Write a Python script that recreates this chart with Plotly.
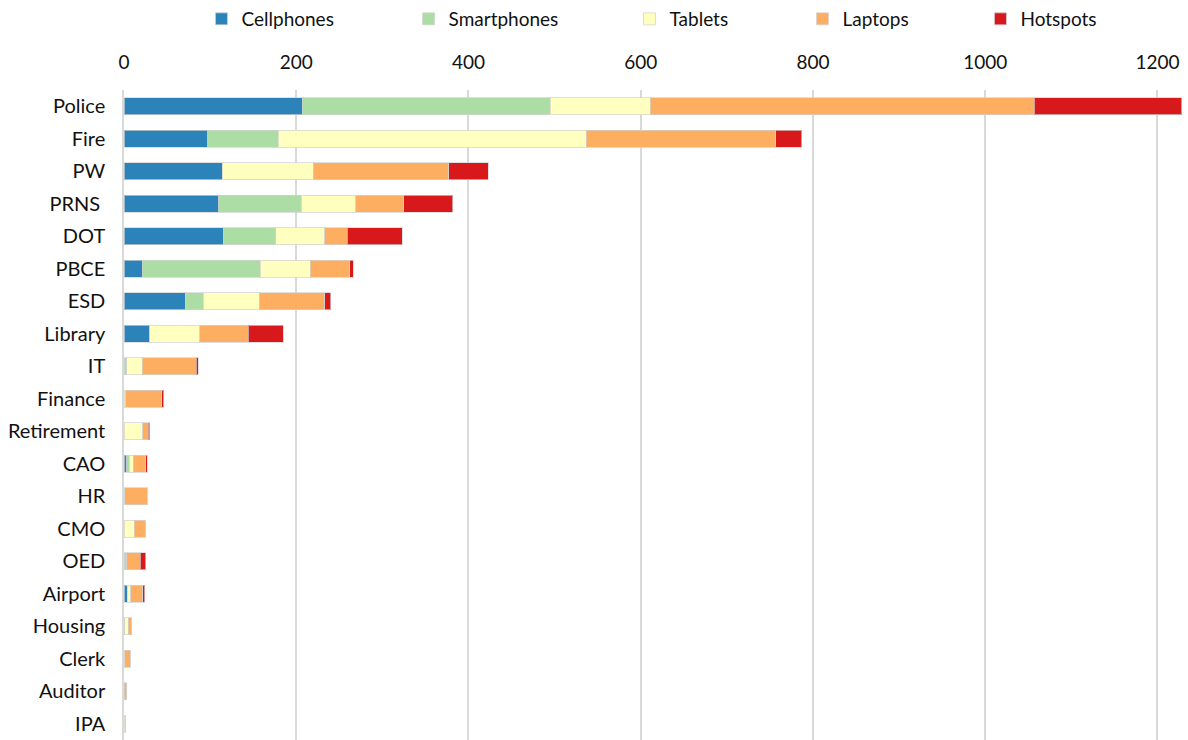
import plotly.graph_objects as go

categories = ["Police", "Fire", "PW", "PRNS\u00a0", "DOT", "PBCE", "ESD", "Library", "IT",
              "Finance", "Retirement", "CAO", "HR", "CMO", "OED", "Airport", "Housing",
              "Clerk", "Auditor", "IPA"]
cellphones = [207, 97, 114, 110, 115, 21, 71, 30, 0, 0, 0, 3, 0, 0, 0, 4, 0, 0, 0, 0]
smartphones = [288, 82, 0, 96, 61, 137, 21, 0, 3, 0, 0, 3, 0, 0, 3, 0, 1, 0, 0, 0]
tablets = [116, 358, 106, 63, 57, 58, 65, 58, 18, 2, 22, 5, 1, 12, 0, 4, 4, 1, 0, 2]
laptops = [446, 220, 157, 56, 26, 46, 76, 56, 63, 42, 6, 14, 26, 13, 16, 14, 4, 6, 3, 0]
hotspots = [171, 30, 46, 57, 64, 4, 7, 41, 2, 2, 2, 2, 0, 0, 6, 2, 0, 0, 0, 0]

series = [
    ("Cellphones", cellphones, "#2c83ba"),
    ("Smartphones", smartphones, "#abdda4"),
    ("Tablets", tablets, "#ffffbf"),
    ("Laptops", laptops, "#fdae61"),
    ("Hotspots", hotspots, "#d7191c"),
]
legend_x = [0.1696, 0.3439, 0.5299, 0.6755, 0.8253]

FONT = "Lato"
fig = go.Figure()
for i, (name, vals, color) in enumerate(series):
    lg = f"legend{i+2}"
    fig.add_trace(go.Bar(
        y=categories, x=vals, name=name, orientation="h",
        marker=dict(color=color, line=dict(color="rgba(210,210,210,0.7)", width=1)),
        legend=lg, showlegend=True,
    ))

layout_legends = {}
for i, lx in enumerate(legend_x):
    key = f"legend{i+2}"
    layout_legends[key] = dict(
        x=lx, y=1.0, xref="container", yref="container", xanchor="left", yanchor="top",
        orientation="h", bgcolor="rgba(0,0,0,0)", font=dict(family=FONT, size=19, color="#111"),
        itemwidth=30,
    )

fig.update_layout(
    barmode="stack",
    bargap=0.49,
    width=1188, height=740,
    margin=dict(l=124, r=3, t=90, b=0),
    plot_bgcolor="white", paper_bgcolor="white",
    font=dict(family=FONT, size=19, color="#111"),
    xaxis=dict(side="top", range=[0, 1232], tickvals=[0, 200, 400, 600, 800, 1000, 1200],
               showgrid=True, gridcolor="#d9d9d9", gridwidth=1.5, zeroline=False,
               showline=False, ticks="", ticklabelstandoff=16,
               tickfont=dict(family=FONT, size=19)),
    yaxis=dict(autorange="reversed", showgrid=False, showline=True, linecolor="#d9d9d9",
               linewidth=1.5, ticks="", ticklabelstandoff=13,
               tickfont=dict(family=FONT, size=20)),
    **layout_legends,
)

fig.write_html("out.html")
